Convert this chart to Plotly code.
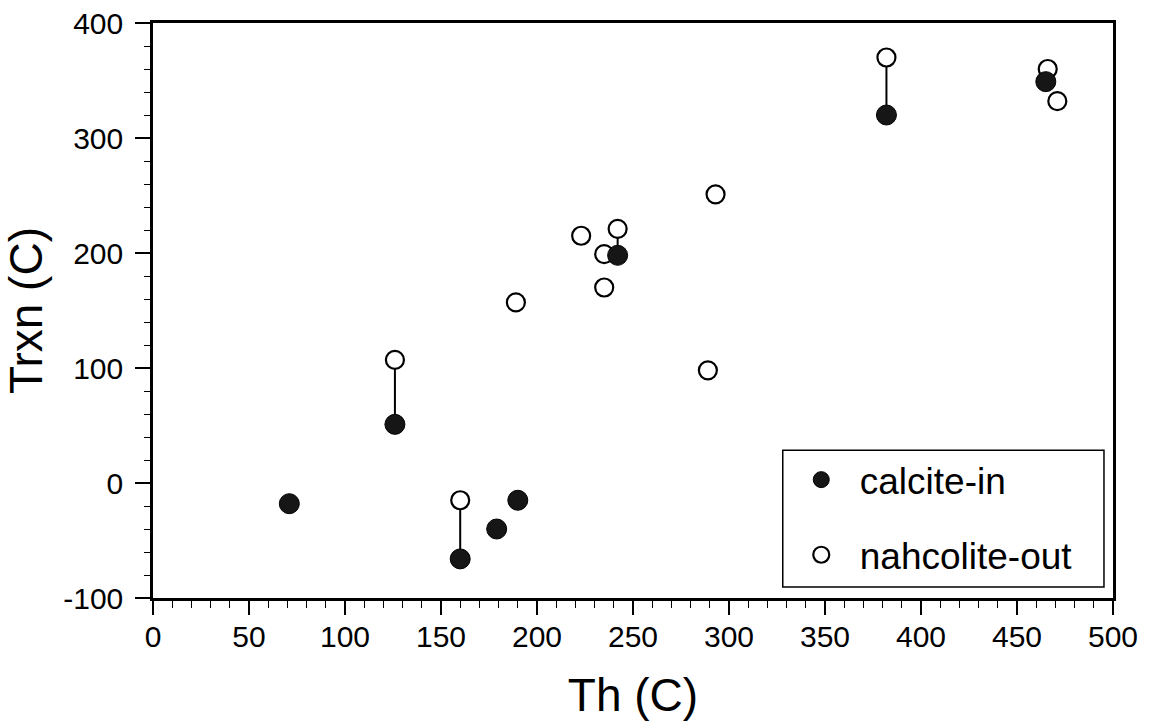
import plotly.graph_objects as go

# Data
calcite_th = [71, 126, 160, 179, 190, 242, 382, 465]
calcite_trxn = [-18, 51, -66, -40, -15, 198, 320, 349]

nahcolite_th = [126, 160, 189, 223, 235, 235, 242, 289, 293, 382, 466, 471]
nahcolite_trxn = [107, -15, 157, 215, 199, 170, 221, 98, 251, 370, 360, 332]

# Tie lines joining calcite-in and nahcolite-out of the same inclusion
tie_th = [126, 160, 242, 382]
tie_low = [51, -66, 198, 320]
tie_high = [107, -15, 221, 370]

x_ticks = [0, 50, 100, 150, 200, 250, 300, 350, 400, 450, 500]
y_ticks = [-100, 0, 100, 200, 300, 400]
y_ticktext = ["-100", "0", "100", "200", "300", "400"]

tie_x, tie_y = [], []
for t, lo, hi in zip(tie_th, tie_low, tie_high):
    tie_x += [t, t, None]
    tie_y += [lo, hi, None]

fig = go.Figure()
fig.add_trace(go.Scatter(x=tie_x, y=tie_y, mode="lines",
                         line=dict(color="black", width=2),
                         showlegend=False, hoverinfo="skip"))
fig.add_trace(go.Scatter(x=nahcolite_th, y=nahcolite_trxn, mode="markers",
                         name="nahcolite-out", legendgroup="b", legendrank=2,
                         marker=dict(symbol="circle", size=18, color="white",
                                     line=dict(color="black", width=2.2))))
fig.add_trace(go.Scatter(x=calcite_th, y=calcite_trxn, mode="markers",
                         name="calcite-in", legendgroup="a", legendrank=1,
                         marker=dict(symbol="circle", size=20, color="#161616",
                                     line=dict(color="black", width=1))))

font_family = "Liberation Sans, Arial, sans-serif"

# Legend frame (drawn as a shape so it can be wider than plotly's auto box)
fig.add_shape(type="rect", xref="paper", yref="paper",
              x0=0.656, x1=0.9906, y0=0.019, y1=0.257,
              line=dict(color="black", width=1.5), fillcolor="white",
              layer="above")

fig.update_layout(
    template="none",
    width=1150, height=721,
    margin=dict(l=153, r=37, t=23, b=123),
    paper_bgcolor="white", plot_bgcolor="white",
    font=dict(family=font_family, color="black", size=30),
    showlegend=True,
    legend=dict(x=0.656, y=0.259, xanchor="left", yanchor="top",
                borderwidth=0, bgcolor="rgba(0,0,0,0)",
                font=dict(size=37, family=font_family, color="black"),
                tracegroupgap=24, itemwidth=67,
                traceorder="grouped"),
    xaxis=dict(range=[0, 500], tickvals=x_ticks, showgrid=False, zeroline=False,
               automargin=False,
               showline=True, linecolor="black", linewidth=2.5, mirror=True,
               ticks="outside", ticklen=14, tickwidth=1.5, tickcolor="black",
               ticklabelstandoff=-4,
               tickfont=dict(size=30),
               minor=dict(dtick=10, ticks="outside", ticklen=7, tickwidth=1, tickcolor="black"),
               title=dict(text="Th (C)", font=dict(size=46), standoff=29)),
    yaxis=dict(range=[-100, 400], tickvals=y_ticks, ticktext=y_ticktext,
               showgrid=False, zeroline=False, automargin=False,
               showline=True, linecolor="black", linewidth=2.5, mirror=True,
               ticks="outside", ticklen=15, tickwidth=1.5, tickcolor="black",
               ticklabelstandoff=6,
               tickfont=dict(size=30),
               minor=dict(dtick=20, ticks="outside", ticklen=6, tickwidth=1, tickcolor="black"),
               title=dict(text="Trxn (C)", font=dict(size=46), standoff=7)),
)

fig.write_html("out.html")
